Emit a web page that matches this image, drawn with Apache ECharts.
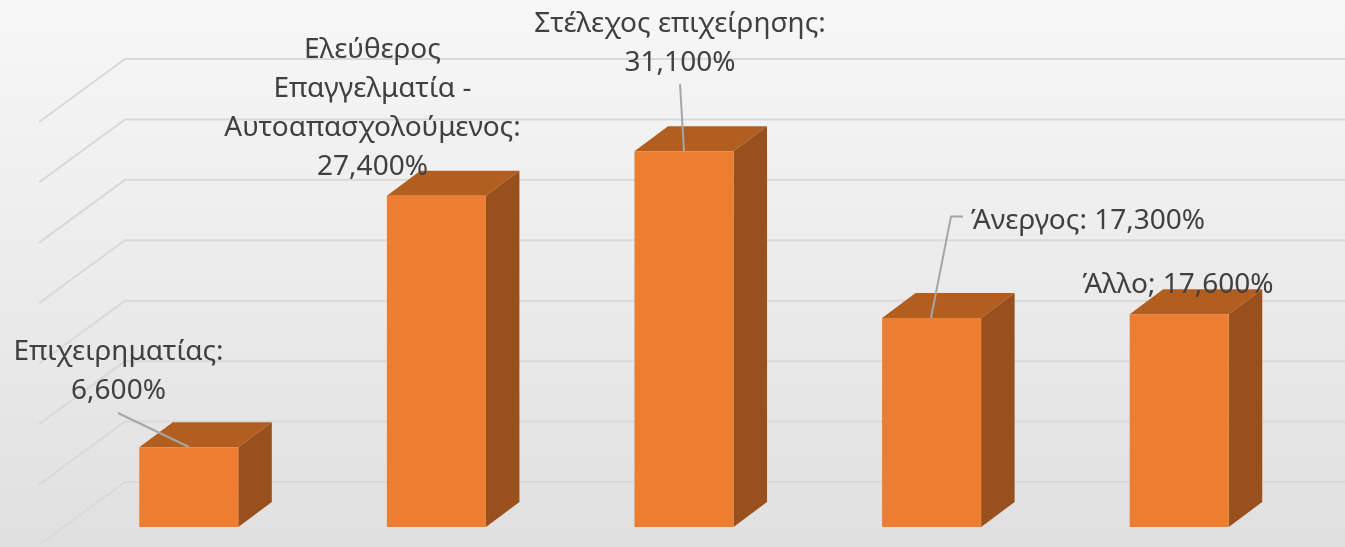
<!DOCTYPE html>
<html><head><meta charset="utf-8">
<style>html,body{margin:0;padding:0;background:#eee}#c{width:1345px;height:547px}</style>
<script src="https://cdn.jsdelivr.net/npm/echarts@6/dist/echarts.min.js"></script>
</head><body><div id="c"></div>
<script>
var categories = ['Επιχειρηματίας','Ελεύθερος Επαγγελματία - Αυτοαπασχολούμενος','Στέλεχος επιχείρησης','Άνεργος','Άλλο'];
var values = [6.6, 27.4, 31.1, 17.3, 17.6];
var labelTexts = ['Επιχειρηματίας:\n6,600%','Ελεύθερος\nΕπαγγελματία -\nΑυτοαπασχολούμενος:\n27,400%','Στέλεχος επιχείρησης:\n31,100%','Άνεργος: 17,300%','Άλλο; 17,600%'];
var yTicks = [0,5,10,15,20,25,30,35];

var FONT = '"Noto Sans", sans-serif', FS = 28, LH = 39;
var wall = {bx:60, by:-45, fx:-26, fy:18};
var depth = {x:33.5, y:-25};
// label centre (px) and leader polyline per category
var labelLayout = [
 {cx:118.5, cy:372, line:[[118,413],[189,447]]},
 {cx:372.5, cy:109, line:null},
 {cx:680, cy:44, line:[[680,84],[684,151]]},
 {cx:1088, cy:221, line:[[963,216.5],[951,216.5],[931,318]]},
 {cx:1178, cy:285, line:null}
];

var chart = echarts.init(document.getElementById('c'), null, {renderer:'canvas'});
chart.setOption({
 animation:false,
 backgroundColor:{type:'linear',x:0,y:0,x2:0,y2:1,colorStops:[{offset:0,color:'#f7f7f7'},{offset:1,color:'#e0e0e0'}]},
 grid:{left:65,top:104,width:1238,height:423},
 xAxis:{type:'category',data:categories,show:false},
 yAxis:{type:'value',min:0,max:35,interval:5,show:false},
 series:[
  {type:'custom',coordinateSystem:'cartesian2d',z:1,silent:true,data:yTicks.map(function(t){return [0,t];}),
   encode:{x:0,y:1},
   renderItem:function(p,api){
     var y=api.coord([0,api.value(1)])[1], gl=p.coordSys.x;
     return {type:'polyline',shape:{points:[[gl+wall.fx,y+wall.fy],[gl+wall.bx,y+wall.by],[1345,y+wall.by]]},
       style:{fill:null,stroke:'#d9d9d9',lineWidth:2}};
   }},
  {type:'custom',coordinateSystem:'cartesian2d',z:2,silent:true,data:values.map(function(v,i){return [i,v];}),
   encode:{x:0,y:1},
   renderItem:function(p,api){
     var c=api.coord([api.value(0),api.value(1)]), b=api.coord([api.value(0),0]);
     var w=api.size([1,0])[0]*0.4, l=c[0]-w/2, r=c[0]+w/2, t=c[1], bt=b[1], dx=depth.x, dy=depth.y;
     return {type:'group',children:[
       {type:'polygon',shape:{points:[[l,t],[r,t],[r+dx,t+dy],[l+dx,t+dy]]},style:{fill:'#b35e21'}},
       {type:'polygon',shape:{points:[[r,t],[r+dx,t+dy],[r+dx,bt+dy],[r,bt]]},style:{fill:'#98501c'}},
       {type:'rect',shape:{x:l,y:t,width:w,height:bt-t},style:{fill:'#ed7d31'}}
     ]};
   }},
  {type:'custom',coordinateSystem:'cartesian2d',z:3,silent:true,data:labelTexts.map(function(s,i){return [i,values[i]];}),
   encode:{x:0,y:1},
   renderItem:function(p,api){
     var i=p.dataIndex, L=labelLayout[i], ch=[
       {type:'text',z2:2,style:{x:L.cx,y:L.cy,text:labelTexts[i],align:'center',verticalAlign:'middle',fill:'#404040',font:FS+'px '+FONT,lineHeight:LH}}
     ];
     if(L.line) ch.push({type:'polyline',z2:1,shape:{points:L.line},style:{fill:null,stroke:'#a6a6a6',lineWidth:2}});
     return {type:'group',children:ch};
   }}
 ]
});
</script></body></html>
